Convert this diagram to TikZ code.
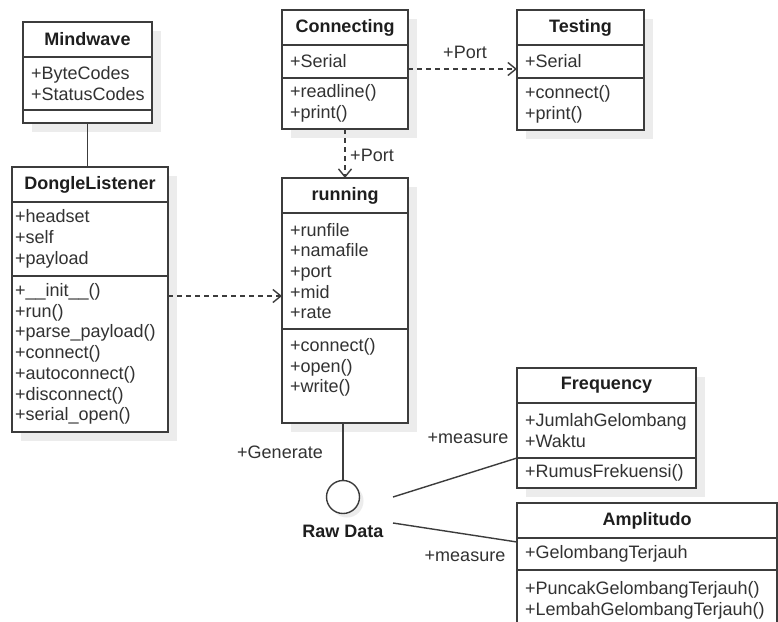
\documentclass[tikz,border=0pt]{standalone}
\usepackage{fontspec}
\setmainfont{Liberation Sans}
\usetikzlibrary{arrows.meta,positioning,backgrounds}
\definecolor{umlline}{RGB}{60,60,60}
\definecolor{umltext}{RGB}{50,50,50}
\definecolor{umltitle}{RGB}{30,30,30}
\definecolor{umlshadow}{RGB}{236,236,236}

\tikzset{
  classname/.style={draw=umlline, line width=1.5pt, fill=white, anchor=north west,
    inner sep=0pt, outer sep=0pt, minimum height=35pt, align=center, text width=#1,
    font=\fontsize{18}{20.7}\selectfont\bfseries, text=umltitle},
  compartment/.style={draw=umlline, line width=1.5pt, fill=white, inner xsep=8pt,
    inner ysep=0pt, outer sep=0pt, align=left, text width=#1,
    font=\fontsize{18}{20.7}\selectfont, text=umltext},
  assoc/.style={draw=umlline, line width=1.4pt},
  depend/.style={draw=umlline, line width=1.4pt, dash pattern=on 5pt off 4pt,
    -{Straight Barb[length=8pt,width=13pt]}},
  rolelabel/.style={font=\fontsize{18}{20.7}\selectfont, text=umltext, inner sep=0pt}
}

\begin{document}
\begin{tikzpicture}[x=1pt, y=-1pt]
  \useasboundingbox (0,0) rectangle (778,621);

  % Mindwave
  \node[classname=129pt] (mw) at (23,22) {Mindwave};
  \node[compartment=113pt, minimum height=53pt, below=0pt of mw] (mw-a) {+ByteCodes\\+StatusCodes};
  \node[compartment=113pt, minimum height=13pt, below=0pt of mw-a] (mw-o) {};

  % DongleListener
  \node[classname=156pt] (dl) at (12,167) {DongleListener};
  \node[compartment=150pt, inner xsep=3pt, minimum height=74pt, below=0pt of dl] (dl-a)
    {+headset\\+self\\+payload};
  \node[compartment=150pt, inner xsep=3pt, minimum height=156pt, below=0pt of dl-a] (dl-o)
    {+\_\_init\_\_()\\+run()\\+parse\_payload()\\+connect()\\+autoconnect()\\+disconnect()\\+serial\_open()};

  % Connecting
  \node[classname=126pt] (con) at (282,10) {Connecting};
  \node[compartment=110pt, minimum height=33pt, below=0pt of con] (con-a) {+Serial};
  \node[compartment=110pt, minimum height=51pt, below=0pt of con-a] (con-o) {+readline()\\+print()};

  % Testing
  \node[classname=127pt] (test) at (517,10) {Testing};
  \node[compartment=111pt, minimum height=33pt, below=0pt of test] (test-a) {+Serial};
  \node[compartment=111pt, minimum height=52pt, below=0pt of test-a] (test-o) {+connect()\\+print()};

  % running
  \node[classname=126pt] (run) at (282,178) {running};
  \node[compartment=110pt, minimum height=116pt, below=0pt of run] (run-a)
    {+runfile\\+namafile\\+port\\+mid\\+rate};
  \node[compartment=110pt, minimum height=94pt, below=0pt of run-a] (run-o)
    {+connect()\\+open()\\+write()\\\mbox{}};

  % Frequency
  \node[classname=179pt] (freq) at (517,368) {Frequency};
  \node[compartment=163pt, minimum height=55pt, below=0pt of freq] (freq-a) {+JumlahGelombang\\+Waktu};
  \node[compartment=163pt, minimum height=30pt, below=0pt of freq-a] (freq-o) {+RumusFrekuensi()};

  % Amplitudo
  \node[classname=260pt] (amp) at (517,503) {Amplitudo};
  \node[compartment=244pt, minimum height=32pt, below=0pt of amp] (amp-a) {+GelombangTerjauh};
  \node[compartment=244pt, minimum height=60pt, below=0pt of amp-a] (amp-o)
    {+PuncakGelombangTerjauh()\\+LembahGelombangTerjauh()};

  % Raw Data
  \node[draw=umlline, line width=1.4pt, circle, minimum size=33pt, inner sep=0pt, fill=white] (raw) at (343,497) {};
  \node[font=\fontsize{18}{20.7}\selectfont\bfseries, text=umltitle, inner sep=0pt] (raw-lbl) at (343,531) {Raw Data};

  % shadows
  \begin{scope}[on background layer]
    \fill[white] (0,0) rectangle (778,621);
    \foreach \cls/\last in {mw/mw-o, dl/dl-o, con/con-o, test/test-o, run/run-o, freq/freq-o, amp/amp-o}
      \fill[umlshadow] ([shift={(9pt,-9pt)}]\cls.north west) rectangle ([shift={(9pt,-9pt)}]\last.south east);
    \fill[umlshadow] ([shift={(4pt,-4pt)}]raw.center) circle (16.5pt);
  \end{scope}

  % associations
  \draw[assoc] (mw-o.south) -- (mw-o.south |- dl.north);
  \draw[assoc] (raw.north |- run-o.south) -- (raw.north);
  \coordinate (raw-e1) at ([xshift=50pt]raw.center);
  \coordinate (raw-e2) at ([shift={(50pt,-26pt)}]raw.center);
  \draw[assoc] (raw-e1) -- (freq-a.south west);
  \draw[assoc] (raw-e2) -- ([yshift=-4pt]amp-a.north west);

  % dependencies
  \coordinate (con-src) at ([yshift=-24pt]con-a.north east);
  \draw[depend] (con-src) -- (con-src -| test-a.west);
  \draw[depend] (con-o.south) -- (run.north);
  \coordinate (dl-src) at ([yshift=-20pt]dl-o.north east);
  \draw[depend] (dl-src) -- (dl-src -| run-a.west);

  % role names
  \node[rolelabel] (port-h) at (465,52) {+Port};
  \node[rolelabel] (port-v) at (372,155) {+Port};
  \node[rolelabel] (gen) at (280,452) {+Generate};
  \node[rolelabel] (meas-f) at (468,438) {+measure};
  \node[rolelabel] (meas-a) at (465,556) {+measure};
\end{tikzpicture}
\end{document}
